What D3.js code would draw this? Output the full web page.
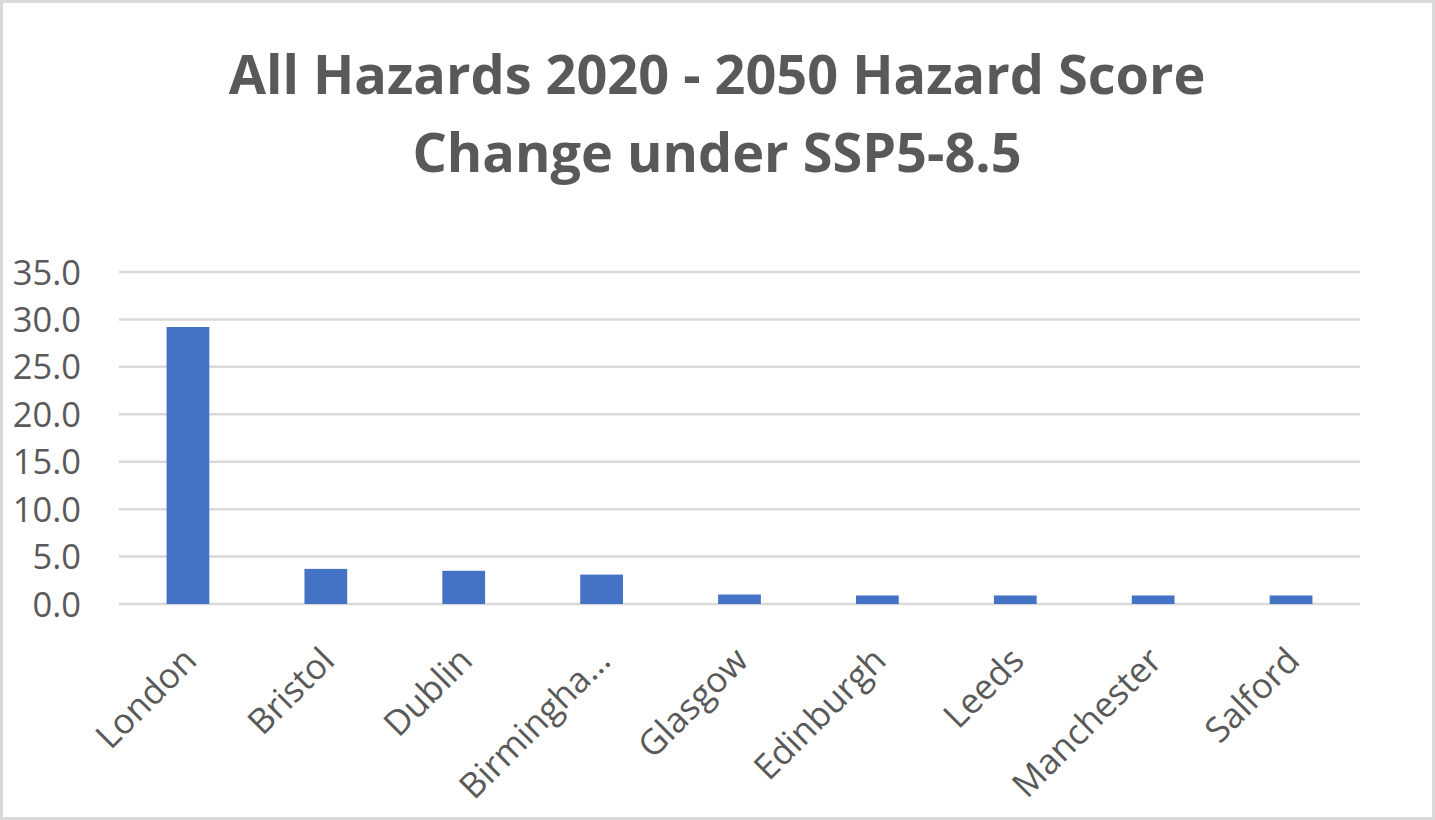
<!DOCTYPE html>
<html><head><meta charset="utf-8">
<script src="https://cdn.jsdelivr.net/npm/d3@7"></script>
<style>
html,body{margin:0;padding:0;background:#fff;}
svg{display:block;}
</style></head>
<body>
<svg id="chart" width="1435" height="820"></svg>
<script>
const titleLines = ["All Hazards 2020 - 2050 Hazard Score", "Change under SSP5-8.5"];
const categories = ["London","Bristol","Dublin","Birmingha…","Glasgow","Edinburgh","Leeds","Manchester","Salford"];
const values = [29.2, 3.7, 3.5, 3.1, 1.0, 0.9, 0.9, 0.9, 0.9];
const yTicks = [0, 5, 10, 15, 20, 25, 30, 35];

const W = 1435, H = 820;
const svg = d3.select("#chart");
const fontFamily = "'Open Sans', 'Noto Sans', sans-serif";
const textColor = "#595959";

// border
svg.append("rect").attr("x",1.5).attr("y",1.5).attr("width",W-3).attr("height",H-3)
  .attr("fill","#fff").attr("stroke","#d9d9d9").attr("stroke-width",3);

// title
const titleY = [94, 172];
const t = svg.append("g");
titleLines.forEach((s,i)=>{
  t.append("text").attr("x",717).attr("y",titleY[i]).attr("text-anchor","middle")
   .attr("font-family",fontFamily).attr("font-weight","bold").attr("font-size",50)
   .attr("fill",textColor).text(s);
});
const tl = t.select("text").node().getComputedTextLength();
const fs = 50 * 977 / tl;
t.selectAll("text").attr("font-size", fs);

const m = {left:119, right:1360, top:272, bottom:604};
const x = d3.scaleBand().domain(categories).range([m.left, m.right]).paddingInner(0.69).paddingOuter(0.345);
const y = d3.scaleLinear().domain([0,35]).range([m.bottom, m.top]);

// gridlines
svg.append("g").selectAll("line").data(yTicks).join("line")
  .attr("x1",m.left).attr("x2",m.right)
  .attr("y1",d=>y(d)).attr("y2",d=>y(d))
  .attr("stroke","#d9d9d9").attr("stroke-width",2.5);

// y axis labels
const yAxis = d3.axisLeft(y).tickValues(yTicks).tickFormat(d3.format(".1f")).tickSize(0).tickPadding(0);
const ya = svg.append("g").attr("transform",`translate(81,0)`).call(yAxis);
ya.select(".domain").remove();
ya.selectAll("text").attr("font-family",fontFamily).attr("font-size",34.5).attr("fill",textColor).attr("dy","0.35em");

// bars
svg.append("g").selectAll("rect").data(values).join("rect")
  .attr("x",(d,i)=>x(categories[i])).attr("width",x.bandwidth())
  .attr("y",d=>y(d)).attr("height",d=>y(0)-y(d))
  .attr("fill","#4472c4");

// x axis labels
const xAxis = d3.axisBottom(x).tickSize(0).tickPadding(0);
const xa = svg.append("g").attr("transform",`translate(0,${m.bottom})`).call(xAxis);
xa.select(".domain").remove();
xa.selectAll("text").attr("font-family",fontFamily).attr("font-size",35).attr("fill",textColor)
  .attr("text-anchor","end")
  .attr("transform","translate(2,50) rotate(-45)")
  .attr("dy","0.35em");
</script>
</body></html>
